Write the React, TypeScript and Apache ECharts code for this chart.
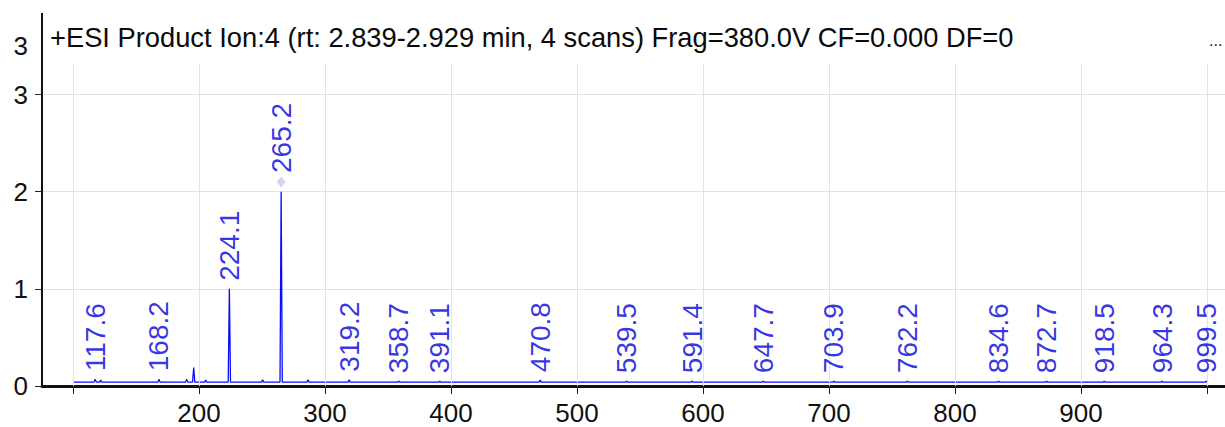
import React, { useEffect, useRef } from "react";
import * as echarts from "echarts";

// ---- data ----
const titleText =
  "+ESI Product Ion:4 (rt: 2.839-2.929 min, 4 scans) Frag=380.0V CF=0.000 DF=0";
const moreText = "...";
const yUnitText = "3";

const xTickValues = [100, 200, 300, 400, 500, 600, 700, 800, 900, 1000];
const xLabelValues = [200, 300, 400, 500, 600, 700, 800, 900];
const yTickValues = [0, 1, 2, 3];

const mzStart = 100;
const mzEnd = 1000;
const baselineLevel = 0.04;

// all peaks (m/z, intensity)
const peakMz = [
  117.6, 122.0, 168.2, 190.2, 195.8, 205.3, 224.1, 250.5, 265.2, 286.5, 319.2,
  358.7, 391.1, 470.8, 539.5, 591.4, 647.7, 703.9, 762.2, 834.6, 872.7, 918.5,
  964.3, 999.5,
];
const peakIntensity = [
  0.07, 0.06, 0.07, 0.07, 0.19, 0.06, 1.0, 0.065, 2.0, 0.065, 0.065, 0.05,
  0.05, 0.06, 0.05, 0.05, 0.05, 0.05, 0.05, 0.05, 0.05, 0.05, 0.05, 0.05,
];

// labelled peaks
const labelMz = [
  117.6, 168.2, 224.1, 265.2, 319.2, 358.7, 391.1, 470.8, 539.5, 591.4, 647.7,
  703.9, 762.2, 834.6, 872.7, 918.5, 964.3, 999.5,
];

// precursor marker
const precursorMz = 265.2;
const precursorLevel = 2.1;

// ---- build series data from the arrays ----
function buildProfile(): number[][] {
  const pts: number[][] = [[mzStart, baselineLevel]];
  const half = 0.9;
  peakMz.forEach((mz, i) => {
    pts.push([mz - half, baselineLevel]);
    pts.push([mz, peakIntensity[i]]);
    pts.push([mz + half, baselineLevel]);
  });
  pts.push([mzEnd, baselineLevel]);
  return pts;
}

function buildLabels() {
  return labelMz.map((mz) => {
    const isPrecursor = mz === precursorMz;
    const idx = peakMz.indexOf(mz);
    const y = isPrecursor ? precursorLevel : peakIntensity[idx];
    return {
      value: [mz, y],
      label: { distance: isPrecursor ? 9 : 8 },
    };
  });
}

const FONT = "'Liberation Sans', Arial, sans-serif";
const BLUE = "#0a0aff";
const LABEL_BLUE = "#0000e0";
const GRID = "#e2e2e2";

export default function App() {
  const ref = useRef<HTMLDivElement>(null);

  useEffect(() => {
    if (!ref.current) return;
    const chart = echarts.init(ref.current, null, { renderer: "svg" });

    const option: any = {
      animation: false,
      backgroundColor: "#ffffff",
      textStyle: { fontFamily: FONT },
      grid: {
        left: 42,
        right: 0,
        top: 64,
        bottom: 41,
        containLabel: false,
        outerBoundsMode: "none",
      },
      xAxis: {
        type: "value",
        min: 75.4,
        max: 1014.3,
        axisLine: { show: true, onZero: false, lineStyle: { color: "#111", width: 3 } },
        axisTick: {
          show: true,
          customValues: xTickValues,
          length: 8,
          lineStyle: { color: "#222", width: 1 },
        },
        axisLabel: {
          show: true,
          customValues: xLabelValues,
          fontSize: 26,
          color: "#111",
          margin: 14,
          fontFamily: FONT,
        },
        splitLine: { show: false },
      },
      yAxis: {
        type: "value",
        min: 0,
        max: 3.314,
        axisLine: { show: true, lineStyle: { color: "#111", width: 2 } },
        axisTick: {
          show: true,
          customValues: yTickValues,
          length: 7,
          lineStyle: { color: "#222", width: 1 },
        },
        axisLabel: {
          show: true,
          customValues: yTickValues,
          fontSize: 26,
          color: "#111",
          margin: 14,
          fontFamily: FONT,
        },
        splitLine: { show: true, lineStyle: { color: GRID, width: 1 } },
      },
      graphic: [
        {
          type: "line",
          shape: { x1: 42, y1: 13, x2: 42, y2: 65 },
          style: { stroke: "#111", lineWidth: 2 },
        },
        {
          type: "text",
          x: 50,
          y: 37,
          style: {
            text: titleText,
            fontSize: 27.3,
            fontFamily: FONT,
            fill: "#0a0a0a",
            align: "left",
            verticalAlign: "middle",
          },
        },
        {
          type: "text",
          x: 1209,
          y: 40,
          style: {
            text: moreText,
            fontSize: 16,
            fontFamily: FONT,
            fill: "#111",
            align: "left",
            verticalAlign: "middle",
          },
        },
        {
          type: "text",
          x: 28,
          y: 46,
          style: {
            text: yUnitText,
            fontSize: 26,
            fontFamily: FONT,
            fill: "#111",
            align: "right",
            verticalAlign: "middle",
          },
        },
      ],
      series: [
        {
          type: "line",
          data: [],
          silent: true,
          z: 1,
          markLine: {
            silent: true,
            animation: false,
            symbol: ["none", "none"],
            label: { show: false },
            lineStyle: { color: GRID, width: 1, type: "solid" },
            emphasis: { disabled: true },
            data: xTickValues.map((v) => ({ xAxis: v })),
          },
        },
        {
          type: "line",
          data: buildProfile(),
          showSymbol: false,
          symbol: "none",
          lineStyle: { color: BLUE, width: 1.3 },
          z: 3,
        },
        {
          type: "scatter",
          data: [[precursorMz, precursorLevel]],
          symbol: "diamond",
          symbolSize: [9, 11],
          itemStyle: { color: "#c9c9f3" },
          z: 4,
        },
        {
          type: "scatter",
          data: buildLabels(),
          symbolSize: 0,
          itemStyle: { color: "transparent" },
          label: {
            show: true,
            position: "top",
            rotate: 90,
            align: "left",
            verticalAlign: "middle",
            distance: 8,
            fontSize: 28,
            color: LABEL_BLUE,
            fontFamily: FONT,
            formatter: (p: any) => p.value[0].toFixed(1),
          },
          z: 5,
        },
      ],
    };

    chart.setOption(option);
    return () => chart.dispose();
  }, []);

  return (
    <div
      ref={ref}
      style={{ position: "absolute", left: 0, top: 0, width: 1225, height: 427 }}
    />
  );
}
